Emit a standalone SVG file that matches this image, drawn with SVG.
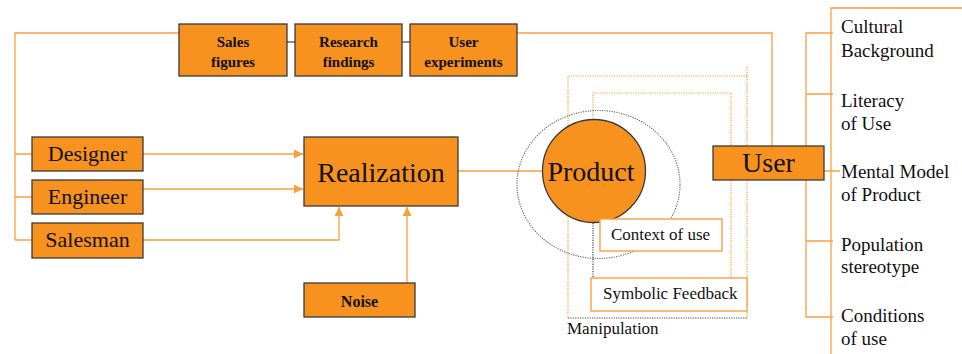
<svg xmlns="http://www.w3.org/2000/svg" width="962" height="354" viewBox="0 0 962 354">
  <style>
    .box { fill: #F7921E; stroke: #3a3a3a; stroke-width: 1.3; }
    .wire { fill: none; stroke: #F7A040; stroke-width: 1.3; }
    .dot-o { fill: none; stroke: #F7A040; stroke-width: 1.2; stroke-dasharray: 1.2 1.2; }
    .dot-k { fill: none; stroke: #444; stroke-width: 1.2; stroke-dasharray: 1.2 1.2; }
    .plain { fill: #fff; stroke: #F7A040; stroke-width: 1.4; }
    text { font-family: "Liberation Serif", "Times New Roman", serif; fill: #111; }
    .big { font-size: 28px; text-anchor: middle; }
    .mid { font-size: 22px; text-anchor: middle; }
    .sm { font-size: 15px; font-weight: bold; text-anchor: middle; }
    .lbl { font-size: 17px; }
    .attr { font-size: 19px; }
  </style>
  <defs>
    <marker id="arrow" markerWidth="10" markerHeight="10" refX="9" refY="5" orient="auto" markerUnits="userSpaceOnUse">
      <path d="M0,0.5 L9,5 L0,9.5 Z" fill="#F7A040"/>
    </marker>
  </defs>

  <!-- connectors -->
  <g id="connectors">
    <!-- left feedback tree -->
    <path class="wire" d="M179,33 H15 V240 M15,154 H32 M15,197 H32 M15,240 H32"/>
    <!-- links between info boxes -->
    <path d="M287,42 H295 M402,42 H410" stroke="#666" stroke-width="1.5"/>
    <!-- user experiments to user -->
    <path class="wire" d="M517,33 H772 V146"/>
    <!-- roles into realization -->
    <path class="wire" d="M143,154 H303" marker-end="url(#arrow)"/>
    <path class="wire" d="M143,189 H303" marker-end="url(#arrow)"/>
    <path class="wire" d="M143,240 H339 V207" marker-end="url(#arrow)"/>
    <path class="wire" d="M407,283 V207" marker-end="url(#arrow)"/>
    <!-- realization to product -->
    <path class="wire" d="M458,171 H543"/>
    <!-- manipulation loop -->
    <path class="dot-o" d="M568,318 V76 H747 M747,67 V318"/>
    <path class="dot-k" d="M568,318 H747"/>
    <!-- symbolic feedback loop -->
    <path class="dot-o" d="M593,120 V93 H731 V301"/>
    <path class="dot-k" d="M593,223 V301 H731"/>
    <!-- context of use ring -->
    <ellipse cx="598.5" cy="184.5" rx="81.5" ry="74" fill="none" stroke="#666" stroke-width="1.1" stroke-dasharray="1.2 1.2"/>
    <!-- user attributes -->
    <path class="wire" d="M806,146 V33 H833 M806,94 H833 M806,180 V317 H833 M806,241 H833 M824,171 H840"/>
    <path class="wire" d="M962,8 H831 V354"/>
  </g>

  <g id="sales-figures">
    <rect class="box" x="179" y="24" width="108" height="52"/>
    <text class="sm" x="233" y="47">Sales</text>
    <text class="sm" x="233" y="67">figures</text>
  </g>
  <g id="research-findings">
    <rect class="box" x="295" y="24" width="107" height="52"/>
    <text class="sm" x="348.5" y="47">Research</text>
    <text class="sm" x="348.5" y="67">findings</text>
  </g>
  <g id="user-experiments">
    <rect class="box" x="410" y="24" width="107" height="52"/>
    <text class="sm" x="463.5" y="47">User</text>
    <text class="sm" x="463.5" y="67">experiments</text>
  </g>

  <g id="designer">
    <rect class="box" x="32" y="137" width="111" height="34"/>
    <text class="mid" x="87.5" y="161">Designer</text>
  </g>
  <g id="engineer">
    <rect class="box" x="32" y="180" width="111" height="34"/>
    <text class="mid" x="87.5" y="204">Engineer</text>
  </g>
  <g id="salesman">
    <rect class="box" x="32" y="223" width="111" height="35"/>
    <text class="mid" x="87.5" y="247">Salesman</text>
  </g>

  <g id="realization">
    <rect class="box" x="304" y="137" width="154" height="69"/>
    <text class="big" x="381" y="182">Realization</text>
  </g>
  <g id="noise">
    <rect class="box" x="304" y="283" width="111" height="34"/>
    <text class="sm" x="359.5" y="307" style="font-size:16px">Noise</text>
  </g>

  <g id="product">
    <circle cx="594" cy="171" r="51.5" fill="#F7921E" stroke="#3a3a3a" stroke-width="1.3"/>
    <text class="big" x="591" y="181">Product</text>
  </g>

  <g id="context-of-use">
    <rect class="plain" x="600" y="219" width="122" height="32"/>
    <text class="lbl" x="611" y="240">Context of use</text>
  </g>
  <g id="symbolic-feedback">
    <rect class="plain" x="591" y="278" width="156" height="33"/>
    <text class="lbl" x="603" y="299">Symbolic Feedback</text>
  </g>
  <g id="manipulation">
    <text class="lbl" x="567" y="334">Manipulation</text>
  </g>

  <g id="user">
    <rect class="box" x="713" y="146" width="111" height="34"/>
    <text class="big" x="768.5" y="172">User</text>
  </g>

  <g id="cultural-background">
    <text class="attr" x="841" y="33">Cultural</text>
    <text class="attr" x="841" y="57">Background</text>
  </g>
  <g id="literacy-of-use">
    <text class="attr" x="841" y="107">Literacy</text>
    <text class="attr" x="841" y="130">of Use</text>
  </g>
  <g id="mental-model">
    <text class="attr" x="841" y="178">Mental Model</text>
    <text class="attr" x="841" y="201">of Product</text>
  </g>
  <g id="population-stereotype">
    <text class="attr" x="841" y="251">Population</text>
    <text class="attr" x="841" y="273">stereotype</text>
  </g>
  <g id="conditions-of-use">
    <text class="attr" x="841" y="322">Conditions</text>
    <text class="attr" x="841" y="345">of use</text>
  </g>
</svg>
